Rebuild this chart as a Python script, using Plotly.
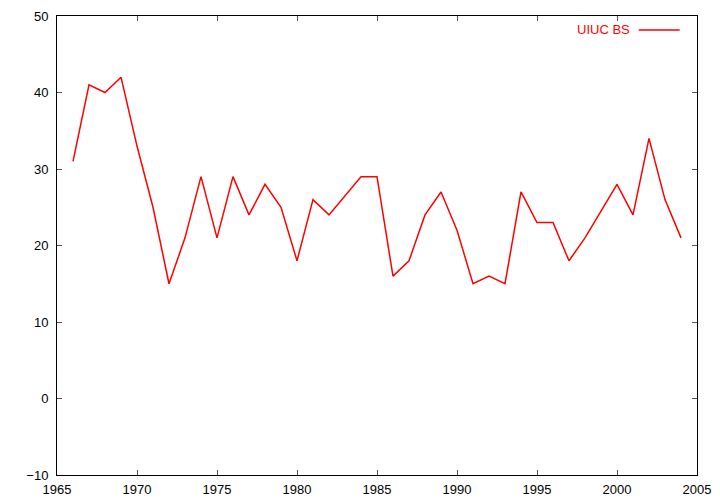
import plotly.graph_objects as go

years = list(range(1966, 2005))
uiuc_bs = [31, 41, 40, 42, 33, 25, 15, 21, 29, 21,
           29, 24, 28, 25, 18, 26, 24, 26.5, 29, 29,
           16, 18, 24, 27, 22, 15, 16, 15, 27, 23,
           23, 18, 21, 24.5, 28, 24, 34, 26, 21]
series_name = "UIUC BS"

fig = go.Figure()
fig.add_trace(go.Scatter(x=years, y=uiuc_bs, mode="lines", name=series_name,
                         line=dict(color="#ff0000", width=1.5), showlegend=False))

axis_common = dict(showline=True, linecolor="#000000", linewidth=1, mirror="ticks",
                   ticks="inside", ticklen=5, tickcolor="#555555", tickwidth=1,
                   showgrid=False, zeroline=False, automargin=False,
                   tickfont=dict(family="Liberation Sans, Arial, sans-serif", size=13, color="#000000"))

fig.update_xaxes(range=[1965, 2005], tick0=1965, dtick=5, ticklabelstandoff=2, **axis_common)
fig.update_yaxes(range=[-10, 50], tick0=-10, dtick=10, ticklabelstandoff=5, **axis_common)

# legend drawn gnuplot-style: text then line sample
fig.add_annotation(x=0.898, y=0.9695, xref="paper", yref="paper", text=series_name,
                   showarrow=False, xanchor="right", yanchor="middle",
                   font=dict(family="Liberation Sans, Arial, sans-serif", size=13, color="#ff0000"))
fig.add_shape(type="line", xref="paper", yref="paper", x0=0.909, x1=0.973, y0=0.9695, y1=0.9695,
              line=dict(color="#ff0000", width=1.5))

fig.update_layout(width=720, height=504, margin=dict(l=57, r=23, t=16, b=29),
                  paper_bgcolor="white", plot_bgcolor="white",
                  font=dict(family="Liberation Sans, Arial, sans-serif", size=13, color="#000000"))

fig.write_html("out.html", config={"displayModeBar": False},
               post_script="document.body.style.margin='0';document.body.style.padding='0';")
